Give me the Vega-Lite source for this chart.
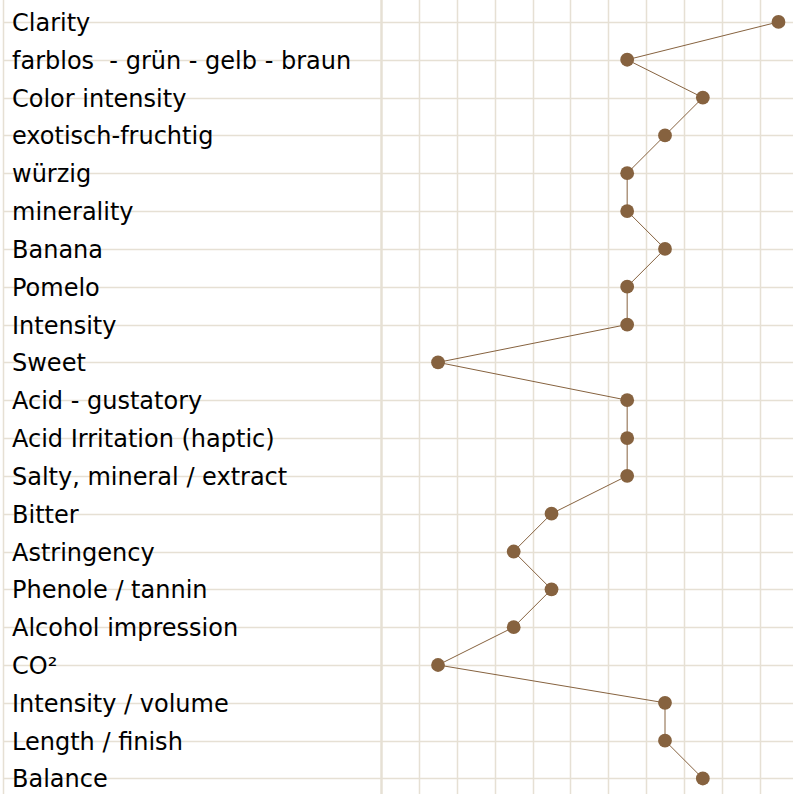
{
  "$schema": "https://vega.github.io/schema/vega-lite/v6.json",
  "width": 790,
  "height": 791,
  "autosize": "none",
  "padding": {"left": 3, "top": 3, "right": 0, "bottom": 0},
  "background": "white",
  "config": {"view": {"stroke": null}},
  "data": {
    "values": [
      {"label": "Clarity", "value": 10},
      {"label": "farblos \u00a0- grün - gelb - braun", "value": 6},
      {"label": "Color intensity", "value": 8},
      {"label": "exotisch-fruchtig", "value": 7},
      {"label": "würzig", "value": 6},
      {"label": "minerality", "value": 6},
      {"label": "Banana", "value": 7},
      {"label": "Pomelo", "value": 6},
      {"label": "Intensity", "value": 6},
      {"label": "Sweet", "value": 1},
      {"label": "Acid - gustatory", "value": 6},
      {"label": "Acid Irritation (haptic)", "value": 6},
      {"label": "Salty, mineral / extract", "value": 6},
      {"label": "Bitter", "value": 4},
      {"label": "Astringency", "value": 3},
      {"label": "Phenole / tannin", "value": 4},
      {"label": "Alcohol impression", "value": 3},
      {"label": "CO²", "value": 1},
      {"label": "Intensity / volume", "value": 7},
      {"label": "Length / finish", "value": 7},
      {"label": "Balance", "value": 8}
    ]
  },
  "encoding": {
    "y": {
      "field": "label",
      "type": "nominal",
      "sort": null,
      "scale": {"range": [0, 794.4], "paddingInner": 0, "paddingOuter": 0},
      "axis": {
        "title": null,
        "labels": false,
        "ticks": false,
        "domain": false,
        "grid": true,
        "bandPosition": 0,
        "gridColor": "#e6e0d4",
        "gridWidth": 1.5
      }
    }
  },
  "layer": [
    {
      "mark": {
        "type": "text",
        "align": "left",
        "baseline": "middle",
        "font": "DejaVu Sans",
        "fontSize": 24,
        "dx": 9,
        "dy": 2,
        "color": "#000000"
      },
      "encoding": {
        "x": {
          "datum": -10.5,
          "type": "quantitative",
          "scale": {"domain": [-10.5, 10.5], "range": [0, 794.4], "nice": false, "zero": false},
          "axis": {
            "title": null,
            "labels": false,
            "ticks": false,
            "domain": false,
            "grid": true,
            "values": [-10.5, -0.5, 0.5, 1.5, 2.5, 3.5, 4.5, 5.5, 6.5, 7.5, 8.5, 9.5, 10.5],
            "gridColor": "#e6e0d4",
            "gridWidth": {"condition": {"test": "datum.value == -0.5", "value": 2.5}, "value": 1.5}
          }
        },
        "text": {"field": "label"}
      }
    },
    {
      "mark": {"type": "line", "color": "#86623f", "strokeWidth": 1},
      "encoding": {
        "x": {"field": "value", "type": "quantitative"},
        "order": {"value": null}
      }
    },
    {
      "mark": {"type": "point", "filled": true, "size": 190, "opacity": 1, "color": "#86623f"},
      "encoding": {
        "x": {"field": "value", "type": "quantitative"}
      }
    }
  ]
}
